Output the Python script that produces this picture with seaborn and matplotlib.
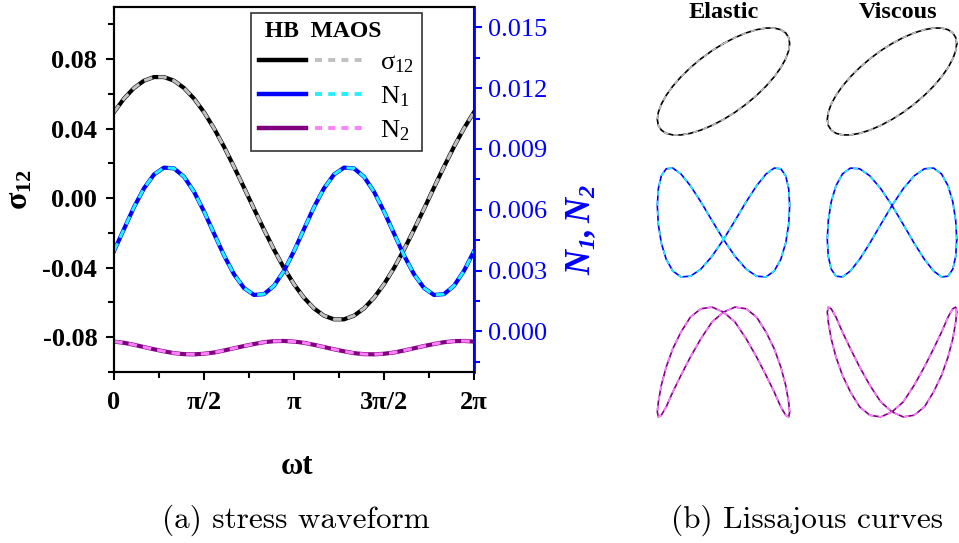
import matplotlib
matplotlib.use("Agg")
import numpy as np
import matplotlib.pyplot as plt
import seaborn as sns
from matplotlib.lines import Line2D
from matplotlib.legend_handler import HandlerTuple

plt.rcParams['font.family'] = ['Liberation Serif', 'DejaVu Serif']
plt.rcParams['mathtext.fontset'] = 'custom'
plt.rcParams['mathtext.rm'] = 'Liberation Serif'
plt.rcParams['mathtext.it'] = 'Liberation Serif:italic'
plt.rcParams['mathtext.bf'] = 'Liberation Serif:bold'

# phase angle wt (degrees), read every 10 degrees
wt_deg = list(range(0, 361, 10))

# shear stress (left axis)
sigma12 = [0.0495, 0.0573, 0.0634, 0.0676, 0.0697, 0.0697, 0.0676, 0.0634, 0.0573,
           0.0495, 0.0402, 0.0296, 0.0181, 0.0061, -0.0061, -0.0181, -0.0296, -0.0402,
           -0.0495, -0.0573, -0.0634, -0.0676, -0.0697, -0.0697, -0.0676, -0.0634, -0.0573,
           -0.0495, -0.0402, -0.0296, -0.0181, -0.0061, 0.0061, 0.0181, 0.0296, 0.0402,
           0.0495]

# normal stress differences (right axis)
N1 = [0.00396, 0.00505, 0.00613, 0.00706, 0.00774, 0.00808, 0.00804, 0.00763, 0.00689,
      0.00592, 0.00483, 0.00375, 0.00282, 0.00214, 0.00180, 0.00184, 0.00225, 0.00299,
      0.00396, 0.00505, 0.00613, 0.00706, 0.00774, 0.00808, 0.00804, 0.00763, 0.00689,
      0.00592, 0.00483, 0.00375, 0.00282, 0.00214, 0.00180, 0.00184, 0.00225, 0.00299,
      0.00396]
N2 = [-0.00050, -0.00056, -0.00066, -0.00077, -0.00088, -0.00098, -0.00107, -0.00112,
      -0.00113, -0.00110, -0.00104, -0.00094, -0.00083, -0.00072, -0.00062, -0.00053,
      -0.00048, -0.00047, -0.00050, -0.00056, -0.00066, -0.00077, -0.00088, -0.00098,
      -0.00107, -0.00112, -0.00113, -0.00110, -0.00104, -0.00094, -0.00083, -0.00072,
      -0.00062, -0.00053, -0.00048, -0.00047, -0.00050]

# strain and strain rate (normalised) for the Lissajous curves
strain = [0, 0.1736, 0.3420, 0.5, 0.6428, 0.7660, 0.8660, 0.9397, 0.9848, 1, 0.9848,
          0.9397, 0.8660, 0.7660, 0.6428, 0.5, 0.3420, 0.1736, 0, -0.1736, -0.3420, -0.5,
          -0.6428, -0.7660, -0.8660, -0.9397, -0.9848, -1, -0.9848, -0.9397, -0.8660,
          -0.7660, -0.6428, -0.5, -0.3420, -0.1736, 0]
strain_rate = [1, 0.9848, 0.9397, 0.8660, 0.7660, 0.6428, 0.5, 0.3420, 0.1736, 0, -0.1736,
               -0.3420, -0.5, -0.6428, -0.7660, -0.8660, -0.9397, -0.9848, -1, -0.9848,
               -0.9397, -0.8660, -0.7660, -0.6428, -0.5, -0.3420, -0.1736, 0, 0.1736, 0.3420,
               0.5, 0.6428, 0.7660, 0.8660, 0.9397, 0.9848, 1]

x_tick_labels = ['0', 'π/2', 'π', '3π/2', '2π']
left_ticks = [-0.08, -0.04, 0.00, 0.04, 0.08]
right_ticks = [0.000, 0.003, 0.006, 0.009, 0.012, 0.015]

wt = np.deg2rad(wt_deg)
c_hb = ['black', '#0000ff', '#800080']
c_maos = ['#c0c0c0', '#22f0ff', '#ff80ff']
dash = (0, (2.8, 2))

fig = plt.figure(figsize=(9.59, 5.43), dpi=100)
W, H = 959, 543


def px_axes(x0, y0, x1, y1):
    return fig.add_axes([x0 / W, 1 - y1 / H, (x1 - x0) / W, (y1 - y0) / H])


# (a) stress waveform
ax = px_axes(114, 7, 474, 372)
ax2 = ax.twinx()

sns.lineplot(x=wt, y=sigma12, ax=ax, color=c_hb[0], lw=3)
sns.lineplot(x=wt, y=sigma12, ax=ax, color=c_maos[0], lw=2.2, linestyle=dash)
sns.lineplot(x=wt, y=N1, ax=ax2, color=c_hb[1], lw=3)
sns.lineplot(x=wt, y=N1, ax=ax2, color=c_maos[1], lw=2.2, linestyle=dash)
sns.lineplot(x=wt, y=N2, ax=ax2, color=c_hb[2], lw=3)
sns.lineplot(x=wt, y=N2, ax=ax2, color=c_maos[2], lw=2.2, linestyle=dash)

ax.set_xlim(0, 2 * np.pi)
ax.set_ylim(-0.1, 0.11)
ax2.set_ylim(-0.002, 0.016)

ax.set_xticks(np.deg2rad([0, 90, 180, 270, 360]))
ax.set_xticklabels(x_tick_labels, fontsize=19, fontweight='bold')
ax.set_xticks(np.deg2rad([45, 135, 225, 315]), minor=True)
ax.set_yticks(left_ticks)
ax.set_yticklabels(['%.2f' % v for v in left_ticks], fontsize=19, fontweight='bold')
ax.set_yticks([-0.1, -0.06, -0.02, 0.02, 0.06, 0.1], minor=True)
ax.tick_params(which='major', length=6, width=1.5, pad=6)
ax.tick_params(axis='x', which='major', pad=8)
ax.tick_params(which='minor', length=4, width=1.5)

ax2.set_yticks(right_ticks)
ax2.set_yticklabels(['%.3f' % v for v in right_ticks], fontsize=19, color='#0000ff')
ax2.set_yticks([-0.0015, 0.0015, 0.0045, 0.0075, 0.0105, 0.0135], minor=True)
ax2.tick_params(which='major', length=6, width=1.5, color='#0000ff', pad=4)
ax2.tick_params(which='minor', length=4, width=1.5, color='#0000ff')

for a in (ax, ax2):
    for s in a.spines.values():
        s.set_linewidth(1.5)
ax2.spines['right'].set_color('#0000ff')
ax2.spines['right'].set_linewidth(2)

ax.set_xlabel('ωt', fontsize=22, fontweight='bold')
ax.xaxis.set_label_coords(0.508, -0.22)
ax.set_ylabel(r'$\mathregular{σ_{12}}$', fontsize=23, fontweight='bold')
ax.yaxis.set_label_coords(-0.222, 0.50)
ax2.set_ylabel(r'$\mathregular{N_1,N_2}$', fontsize=25, fontweight='bold',
               fontstyle='italic', color='#0000ff')
ax2.yaxis.set_label_coords(1.25, 0.39)

handles = []
for hb, ma in zip(c_hb, c_maos):
    handles.append((Line2D([], [], color=hb, lw=3.2),
                    Line2D([], [], color=ma, lw=2.8, linestyle=(0, (1.8, 1.6)))))
leg = ax2.legend(handles, [r'$\mathregular{σ_{12}}$', r'$\mathregular{N_1}$', r'$\mathregular{N_2}$'],
                 handler_map={tuple: HandlerTuple(ndivide=2, pad=0.35)},
                 loc='upper left', bbox_to_anchor=(251 / W, 1 - 13 / H),
                 bbox_transform=fig.transFigure, borderaxespad=0,
                 handlelength=3.9, handletextpad=0.7, labelspacing=0.35,
                 borderpad=0.3, fontsize=19, title=' HB  MAOS',
                 title_fontproperties={'weight': 'bold', 'size': 17},
                 alignment='left', fancybox=False, framealpha=1, edgecolor='#333333')
leg.get_frame().set_linewidth(1.2)

# (b) Lissajous curves
cols = [(656, 791, strain), (826, 958, strain_rate)]
rows = [(27, 136, sigma12), (167, 278, N1), (306, 418, N2)]
for ci, (x0, x1, xs) in enumerate(cols):
    for ri, (y0, y1, ys) in enumerate(rows):
        a = px_axes(x0, y0, x1, y1)
        sns.lineplot(x=xs, y=ys, ax=a, sort=False, estimator=None, color=c_hb[ri], lw=1.2)
        sns.lineplot(x=xs, y=ys, ax=a, sort=False, estimator=None, color=c_maos[ri], lw=1.2,
                     linestyle=(0, (3, 3)))
        a.margins(0.01)
        a.axis('off')

fig.text(724 / W, 1 - 13 / H, 'Elastic', fontsize=17.5, fontweight='bold', ha='center', va='center')
fig.text(898 / W, 1 - 12 / H, 'Viscous', fontsize=17.5, fontweight='bold', ha='center', va='center')

fig.text(296 / W, 1 - 520 / H, '(a) stress waveform', family='cmr10', fontsize=22.5,
         ha='center', va='center')
fig.text(807 / W, 1 - 520 / H, '(b) Lissajous curves', family='cmr10', fontsize=22.5,
         ha='center', va='center')

fig.savefig('out.png', dpi=100)
